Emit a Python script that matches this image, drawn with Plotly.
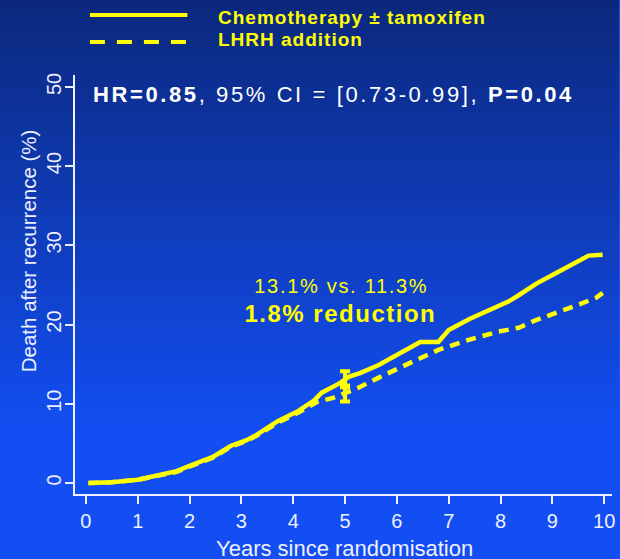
import plotly.graph_objects as go

# ---- data ----
chemo_years = [0.05, 0.5, 1.0, 1.35, 1.75, 2.05, 2.45, 2.8, 3.1, 3.3, 3.7, 4.1, 4.4, 4.55, 4.9,
               5.07, 5.3, 5.65, 6.0, 6.3, 6.45, 6.8, 7.0, 7.4, 7.75, 8.15, 8.35, 8.7, 9.1, 9.5, 9.7, 9.97]
chemo_pct = [0.0, 0.1, 0.4, 0.9, 1.5, 2.3, 3.3, 4.7, 5.4, 6.1, 7.8, 9.1, 10.4, 11.4, 12.6,
             13.4, 13.9, 14.9, 16.1, 17.2, 17.8, 17.8, 19.3, 20.7, 21.8, 22.9, 23.7, 25.2, 26.6, 27.9, 28.7, 28.8]
lhrh_years = [0.05, 0.5, 1.0, 1.35, 1.75, 2.05, 2.45, 2.8, 3.1, 3.3, 3.7, 4.1, 4.45, 4.75, 5.0,
              5.25, 5.65, 6.0, 6.3, 6.8, 7.4, 7.95, 8.35, 8.7, 9.1, 9.5, 9.85, 9.97]
lhrh_pct = [0.0, 0.1, 0.4, 0.9, 1.4, 2.2, 3.2, 4.6, 5.3, 6.0, 7.6, 8.9, 10.2, 10.7, 11.3,
            12.0, 13.3, 14.3, 15.3, 16.8, 18.1, 19.1, 19.6, 20.6, 21.5, 22.5, 23.4, 24.0]
bar_year = [5.0]
chemo_5y = [13.1]
lhrh_5y = [11.3]
ci_half = [1.0]
x_ticks = [0, 1, 2, 3, 4, 5, 6, 7, 8, 9, 10]
y_ticks = [0, 10, 20, 30, 40, 50]
series_names = ["Chemotherapy ± tamoxifen", "LHRH addition"]

YELLOW = "#ffff00"
FONT = "Liberation Sans, Arial, sans-serif"
AXC = "#eef0ff"

fig = go.Figure()
fig.add_trace(go.Scatter(x=chemo_years, y=chemo_pct, mode="lines", name=series_names[0],
                         line=dict(color=YELLOW, width=4.5), showlegend=False))
fig.add_trace(go.Scatter(x=lhrh_years, y=lhrh_pct, mode="lines", name=series_names[1],
                         line=dict(color=YELLOW, width=4.5, dash="10px,7px"), showlegend=False))
fig.add_trace(go.Scatter(x=bar_year, y=chemo_5y, mode="markers", marker=dict(size=1, color=YELLOW),
                         error_y=dict(type="data", array=ci_half, color=YELLOW, thickness=4, width=5),
                         showlegend=False, hoverinfo="skip"))
fig.add_trace(go.Scatter(x=bar_year, y=lhrh_5y, mode="markers", marker=dict(size=1, color=YELLOW),
                         error_y=dict(type="data", array=ci_half, color=YELLOW, thickness=4, width=5),
                         showlegend=False, hoverinfo="skip"))

# ---- background gradient (stepped bands in paper coords) ----
W, H = 620, 559
L, R, T, B = 75, 5, 75, 65
pw, ph = W - L - R, H - T - B
def px_x(p):
    return (p - L) / pw
def px_y(p):
    return (H - B - p) / ph

top_c = (12, 40, 124)
bot_c = (18, 78, 242)
shapes = []
n = 56
for i in range(n):
    y0p = i * H / n
    y1p = (i + 1) * H / n
    t = min(1.0, ((y0p + y1p) / 2) / 430.0)
    c = tuple(int(round(top_c[k] + (bot_c[k] - top_c[k]) * t)) for k in range(3))
    shapes.append(dict(type="rect", xref="paper", yref="paper", layer="below",
                       x0=px_x(-2), x1=px_x(W + 2), y0=px_y(y1p + 0.5), y1=px_y(y0p - 0.5),
                       line=dict(width=0), fillcolor="rgb(%d,%d,%d)" % c))

# legend samples
shapes.append(dict(type="line", xref="paper", yref="paper", x0=px_x(90), x1=px_x(188),
                   y0=px_y(15), y1=px_y(15), line=dict(color=YELLOW, width=4)))
shapes.append(dict(type="line", xref="paper", yref="paper", x0=px_x(90), x1=px_x(188),
                   y0=px_y(42), y1=px_y(42), line=dict(color=YELLOW, width=4, dash="15px,12px")))

annotations = [
    dict(text="<b>" + series_names[0] + "</b>", x=px_x(217), y=px_y(17), xref="paper", yref="paper",
         xanchor="left", yanchor="middle", align="left", showarrow=False,
         font=dict(color=YELLOW, size=19, family=FONT)),
    dict(text="<b>" + series_names[1] + "</b>", x=px_x(217), y=px_y(40), xref="paper", yref="paper",
         xanchor="left", yanchor="middle", align="left", showarrow=False,
         font=dict(color=YELLOW, size=19, family=FONT)),
    dict(text="<b>HR=0.85</b>, 95% CI = [0.73-0.99], <b>P=0.04</b>", x=px_x(91), y=px_y(94),
         xref="paper", yref="paper", xanchor="left", yanchor="middle", align="left", showarrow=False,
         font=dict(color="white", size=22, family=FONT)),
    dict(text="13.1% vs. 11.3%", x=px_x(343), y=px_y(286), xref="paper", yref="paper",
         xanchor="center", yanchor="middle", showarrow=False, font=dict(color=YELLOW, size=20, family=FONT)),
    dict(text="<b>1.8% reduction</b>", x=px_x(342), y=px_y(313), xref="paper", yref="paper",
         xanchor="center", yanchor="middle", showarrow=False, font=dict(color=YELLOW, size=24, family=FONT)),
    dict(text="Death after recurrence (%)", x=px_x(29), y=px_y(251), xref="paper", yref="paper",
         xanchor="center", yanchor="middle", textangle=-90, showarrow=False,
         font=dict(color=AXC, size=20.5, family=FONT)),
    dict(text="Years since randomisation", x=px_x(346), y=px_y(548), xref="paper", yref="paper",
         xanchor="center", yanchor="middle", showarrow=False,
         font=dict(color=AXC, size=22, family=FONT)),
]

axis_common = dict(showgrid=False, zeroline=False, showline=True, linecolor=AXC, linewidth=2,
                   ticks="outside", ticklen=8, tickwidth=2, tickcolor=AXC,
                   tickfont=dict(color=AXC, size=20, family=FONT), mirror=False)

fig.update_layout(
    width=W, height=H,
    margin=dict(l=L, r=R, t=T, b=B, pad=0),
    paper_bgcolor="rgb(18,78,242)",
    plot_bgcolor="rgba(0,0,0,0)",
    shapes=shapes,
    annotations=annotations,
    xaxis=dict(range=[-0.21, 10.15], tickvals=x_ticks, ticktext=[str(v) for v in x_ticks], **axis_common),
    yaxis=dict(range=[-1.39, 51.5], tickvals=y_ticks, ticktext=[str(v) for v in y_ticks],
               tickangle=-90, ticklabelstandoff=-4, **axis_common),
    showlegend=False,
)

post = """
document.body.style.margin = '0';
document.body.style.padding = '0';
var gd = document.getElementById('{plot_id}');
function fixSpacing() {
  document.querySelectorAll('g.annotation text.annotation-text').forEach(function (t) {
    var s = t.textContent || '';
    if (s.indexOf('HR=') === 0) { t.style.letterSpacing = '2.6px'; }
    else if (s.indexOf('Chemotherapy') === 0 || s.indexOf('LHRH') === 0) { t.style.letterSpacing = '1px'; }
    else if (s.indexOf('13.1%') === 0) { t.style.letterSpacing = '1.7px'; }
    else if (s.indexOf('1.8%') === 0) { t.style.letterSpacing = '1.5px'; }
  });
}
fixSpacing();
setTimeout(fixSpacing, 50);
if (gd && gd.on) { gd.on('plotly_afterplot', fixSpacing); }
"""

fig.write_html("out.html", post_script=post, config={"displayModeBar": False})
